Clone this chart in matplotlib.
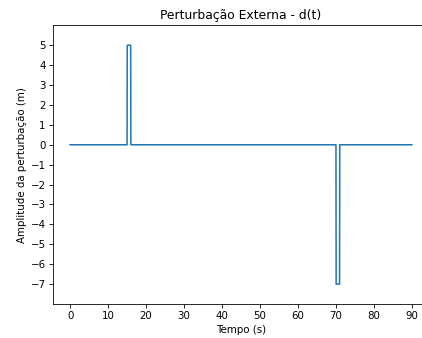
import numpy as np
import matplotlib.pyplot as plt

# perturbação d(t): dois pulsos
t = [0, 15, 15.05, 15.95, 16, 70, 70.05, 70.95, 71, 90]
d = [0, 0, 5, 5, 0, 0, -7, -7, 0, 0]

fig = plt.figure(figsize=(422 / 74, 338 / 74), dpi=74)
ax = fig.add_axes([0.1256, 0.1006, 0.891, 0.8244])
ax.plot(t, d)
ax.set_title('Perturbação Externa - d(t)')
ax.set_xlabel('Tempo (s)')
ax.set_ylabel('Amplitude da perturbação (m)')
ax.set_xticks(np.arange(0, 91, 10))
ax.set_yticks(np.arange(-7, 6, 1))
ax.set_xlim(-4.5, 94.5)
ax.set_ylim(-8, 6)
plt.savefig('out.png', dpi=74)
